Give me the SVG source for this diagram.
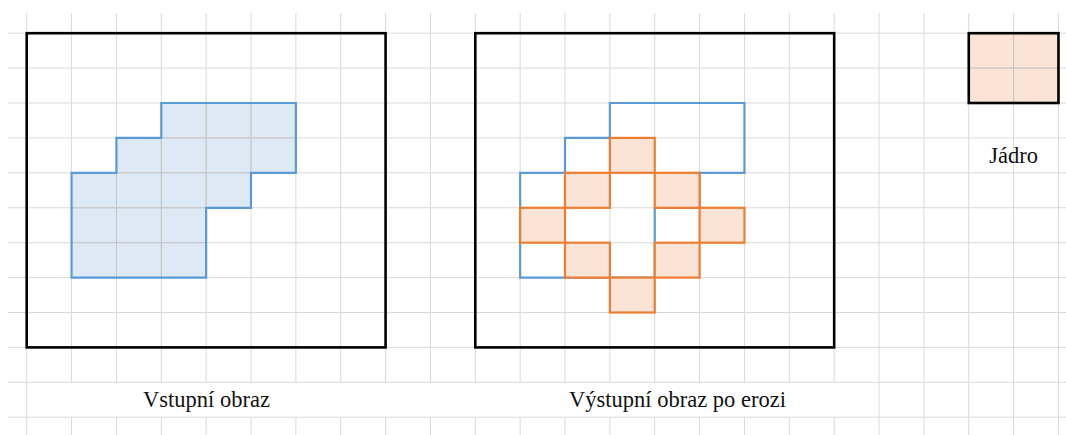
<svg xmlns="http://www.w3.org/2000/svg" width="1066" height="435" viewBox="0 0 1066 435">
<style>
.g{stroke:#d9d9d9;stroke-width:1;fill:none}
.gi{stroke:#c4c4c4;stroke-width:1;fill:none}
.bf{fill:#dde9f5;stroke:none}
.bo{fill:none;stroke:#5b9bd5;stroke-width:2.2;stroke-linejoin:miter}
.oc{fill:#fbe4d6;stroke:#ed7d31;stroke-width:2.2}
.box{fill:none;stroke:#000;stroke-width:2.6}
.t{font-family:"Liberation Serif","Times New Roman",serif;font-size:22.5px;fill:#111;text-anchor:middle}
</style>
<rect width="1066" height="435" fill="#fff"/>
<g id="fills">
<path class="bf" d="M161.28,103 H295.86 V172.8 H251 V207.8 H206.14 V277.6 H71.56 V172.8 H116.42 V137.9 H161.28 Z"/>
<rect x="968.76" y="33.2" width="89.72" height="69.8" fill="#fbe4d6"/>
</g>
<g id="grid" class="g">
<path d="M8,33.2H1066M8,68.1H1066M8,103H1066M8,137.9H1066M8,172.8H1066M8,207.8H1066M8,242.7H1066M8,277.6H1066M8,312.5H1066M8,347.4H1066M8,382.3H1066M8,417.2H1066"/>
<path d="M26.7,13V435M879.04,13V435M923.9,13V435M968.76,13V435M1013.62,13V435M1058.48,13V435"/>
<path d="M71.56,13V382.3M116.42,13V382.3M161.28,13V382.3M206.14,13V382.3M251,13V382.3M295.86,13V382.3M340.72,13V382.3M385.58,13V382.3M430.44,13V382.3M475.3,13V382.3M520.16,13V382.3M565.02,13V382.3M609.88,13V382.3M654.74,13V382.3M699.6,13V382.3M744.46,13V382.3M789.32,13V382.3M834.18,13V382.3"/>
<path d="M71.56,417.2V435M116.42,417.2V435M161.28,417.2V435M206.14,417.2V435M251,417.2V435M295.86,417.2V435M340.72,417.2V435M385.58,417.2V435M430.44,417.2V435M475.3,417.2V435M520.16,417.2V435M565.02,417.2V435M609.88,417.2V435M654.74,417.2V435M699.6,417.2V435M744.46,417.2V435M789.32,417.2V435M834.18,417.2V435"/>
</g>
<g id="grid-inside" class="gi">
<path d="M116.42,172.8V277.6M161.28,137.9V277.6M206.14,103V207.8M251,103V172.8M71.56,207.8H206.14M71.56,242.7H206.14M116.42,172.8H251M161.28,137.9H295.86"/>
<path d="M1013.62,33.2V103M968.76,68.1H1058.48"/>
</g>
<g id="input-image">
<path class="bo" d="M161.28,103 H295.86 V172.8 H251 V207.8 H206.14 V277.6 H71.56 V172.8 H116.42 V137.9 H161.28 Z"/>
<rect class="box" x="26.7" y="33.2" width="358.88" height="314.2"/>
<text class="t" x="206.5" y="407">Vstupní obraz</text>
</g>
<g id="output-image">
<path class="bo" d="M609.88,103 H744.46 V172.8 H699.6 V207.8 H654.74 V277.6 H520.16 V172.8 H565.02 V137.9 H609.88 Z"/>
<rect class="oc" x="609.88" y="137.9" width="44.86" height="34.9"/>
<rect class="oc" x="565.02" y="172.8" width="44.86" height="35"/>
<rect class="oc" x="654.74" y="172.8" width="44.86" height="35"/>
<rect class="oc" x="520.16" y="207.8" width="44.86" height="34.9"/>
<rect class="oc" x="699.6" y="207.8" width="44.86" height="34.9"/>
<rect class="oc" x="565.02" y="242.7" width="44.86" height="34.9"/>
<rect class="oc" x="654.74" y="242.7" width="44.86" height="34.9"/>
<rect class="oc" x="609.88" y="277.6" width="44.86" height="34.9"/>
<rect class="box" x="475.3" y="33.2" width="358.88" height="314.2"/>
<text class="t" x="677.5" y="407">Výstupní obraz po erozi</text>
</g>
<g id="kernel">
<rect class="box" x="968.76" y="33.2" width="89.72" height="69.8"/>
<text class="t" x="1013.6" y="163">Jádro</text>
</g>
</svg>
